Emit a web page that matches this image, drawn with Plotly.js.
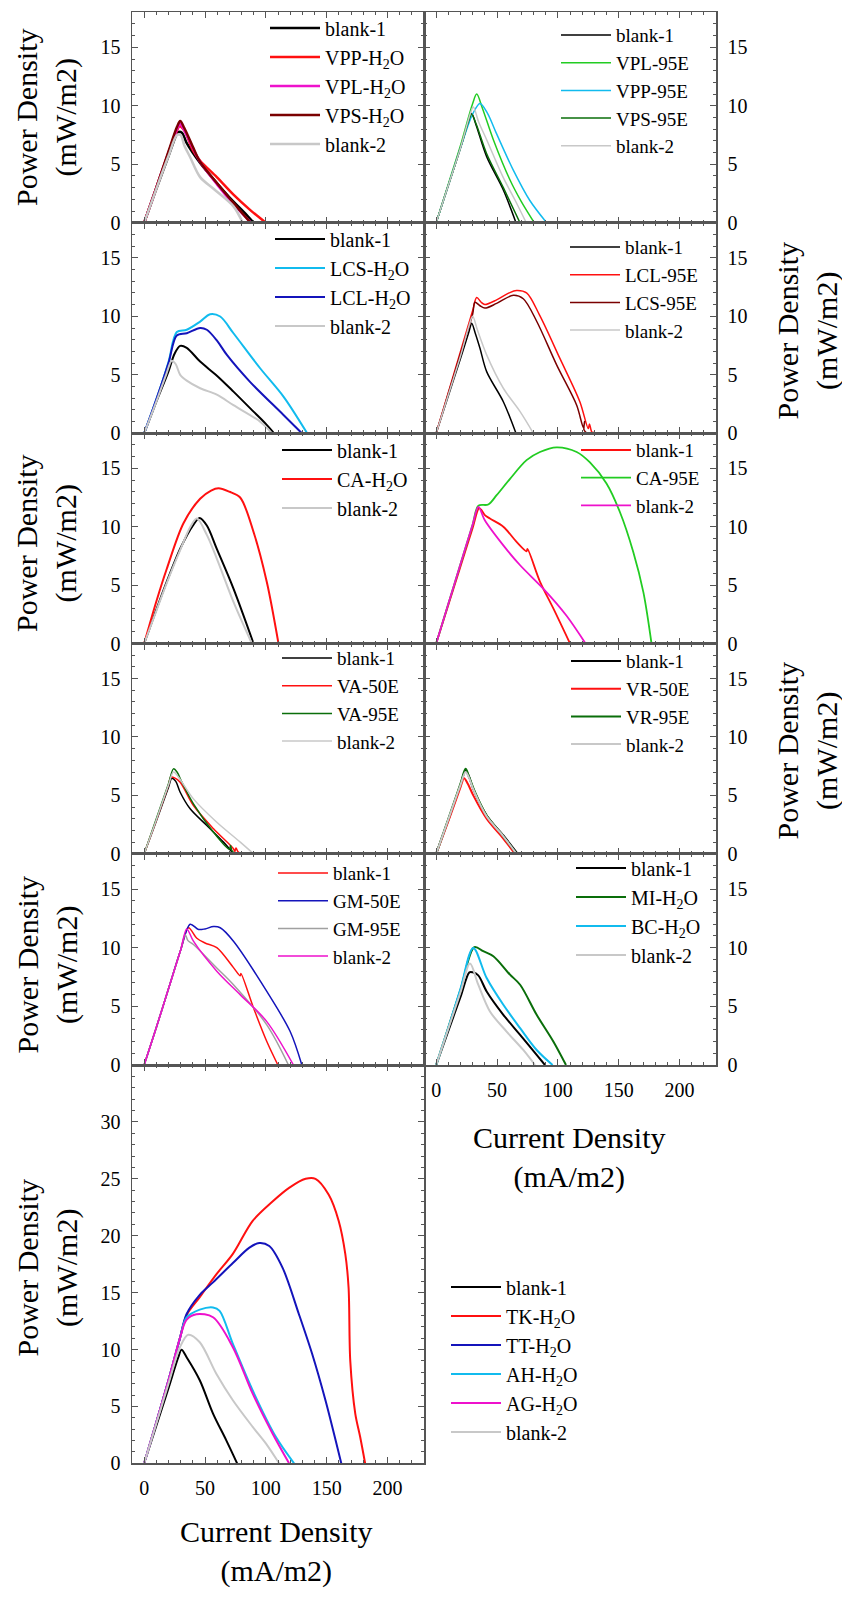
<!DOCTYPE html>
<html><head><meta charset="utf-8">
<script src="https://cdn.plot.ly/plotly-3.0.1.min.js"></script>
<style>html,body{margin:0;padding:0;background:#fff}#chart{width:842px;height:1611px}</style>
</head><body><div id="chart"></div>
<script>
// ---------------- DATA (current density mA/m2 -> power density mW/m2) ----------------
// Panel 1
const p1_blank1_x = [0, 10, 20, 26, 28, 31, 35, 46, 59.7, 73.4, 82, 89.9];
const p1_blank1_y = [0, 2.9, 5.7, 7.4, 7.75, 7.7, 6.8, 5.1, 3.4, 1.8, 0.9, 0];
const p1_vpp_x = [0, 10, 20, 27, 29, 33, 40, 46, 59.7, 73.4, 87, 100];
const p1_vpp_y = [0, 3.0, 6.0, 7.9, 8.25, 7.9, 6.2, 5.3, 3.9, 2.4, 1.1, 0];
const p1_vpl_x = [0, 10, 20, 27, 29.5, 33, 40, 46, 59.7, 73.4, 87.7];
const p1_vpl_y = [0, 3.0, 6.0, 8.0, 8.45, 7.9, 6.4, 5.2, 3.3, 1.6, 0];
const p1_vps_x = [0, 10, 20, 27, 29.6, 33, 40, 46, 59.7, 73.4, 87.5];
const p1_vps_y = [0, 3.0, 6.1, 8.2, 8.7, 8.1, 6.5, 5.2, 3.4, 1.7, 0];
const p1_blank2_x = [0, 10, 20, 27, 30, 33, 37.8, 46, 57, 73.4, 81];
const p1_blank2_y = [0, 2.9, 5.7, 7.5, 7.5, 6.6, 5.6, 3.9, 2.9, 1.4, 0];
// Panel 2
const p2_blank1_x = [0, 10, 20, 27, 29.2, 33, 41.5, 55.2, 65.6];
const p2_blank1_y = [0, 3.2, 6.4, 8.8, 9.35, 8.3, 5.65, 2.8, 0];
const p2_vpl_x = [0, 10, 20, 30, 33.3, 38, 47, 60.7, 70, 80.6];
const p2_vpl_y = [0, 3.3, 6.6, 10.2, 11.0, 9.8, 7.1, 3.65, 1.8, 0];
const p2_vpp_x = [0, 10, 20, 30, 36, 42, 49.7, 63.4, 77, 90.8];
const p2_vpp_y = [0, 3.2, 6.4, 9.3, 10.2, 9.4, 7.6, 4.5, 1.9, 0];
const p2_vps_x = [0, 10, 20, 27, 29, 33, 41.5, 55.2, 68.9];
const p2_vps_y = [0, 3.2, 6.4, 8.8, 9.3, 8.4, 5.9, 3.0, 0];
const p2_blank2_x = [0, 10, 20, 28, 30.5, 35, 41.5, 55, 65, 74];
const p2_blank2_y = [0, 3.2, 6.4, 9.3, 9.9, 8.6, 7.1, 3.9, 1.9, 0];
// Panel 3
const p3_blank1_x = [0, 10, 20, 25, 29.6, 35, 46, 60, 73.4, 89.9, 100, 106.8];
const p3_blank1_y = [0, 2.7, 5.3, 6.8, 7.47, 7.3, 6.13, 4.9, 3.56, 1.85, 0.8, 0];
const p3_lcs_x = [0, 10, 20, 26.8, 35, 46, 54.2, 62.5, 73.4, 95.3, 114.5, 134];
const p3_lcs_y = [0, 2.9, 6.1, 8.65, 8.85, 9.55, 10.18, 9.98, 8.55, 5.56, 3.14, 0];
const p3_lcl_x = [0, 10, 20, 26.8, 35, 46, 51.5, 60, 68, 87, 114.5, 129.6];
const p3_lcl_y = [0, 2.9, 6.0, 8.35, 8.55, 9.0, 8.85, 7.9, 6.7, 4.4, 1.57, 0];
const p3_blank2_x = [0, 10, 18, 22.7, 26, 29.6, 35, 46, 59.7, 73.4, 95.3, 105];
const p3_blank2_y = [0, 2.7, 5.0, 6.2, 5.9, 5.0, 4.5, 3.85, 3.3, 2.4, 1.0, 0];
// Panel 4
const p4_blank1_x = [0, 10, 20, 27, 29.2, 32, 36, 41.5, 55.2, 65.6];
const p4_blank1_y = [0, 3.2, 6.4, 8.7, 9.4, 8.6, 7.27, 5.27, 2.7, 0];
const p4_lcl_x = [0, 10, 20, 30, 33.3, 37, 40, 49.7, 60, 66, 74.3, 85, 101.7, 118.1, 125, 126, 128, 130];
const p4_lcl_y = [0, 3.5, 7.0, 10.5, 11.6, 11.2, 11.0, 11.4, 12.0, 12.2, 12.0, 10.1, 6.4, 2.7, 0.4, 0.8, 0.1, 0.1];
const p4_lcs_x = [0, 10, 20, 30, 31.9, 36, 40, 49.7, 63.4, 71.6, 82.5, 99, 115.5, 121, 122, 121.5, 124];
const p4_lcs_y = [0, 3.4, 6.8, 10.2, 11.2, 10.9, 10.7, 11.1, 11.8, 11.5, 9.6, 5.85, 2.4, 0.5, 1.0, 0.3, 0];
const p4_blank2_x = [0, 10, 20, 27, 30, 34, 41.5, 55.2, 69, 79.9];
const p4_blank2_y = [0, 3.3, 6.6, 9.2, 10.0, 8.8, 6.7, 3.85, 1.85, 0];
// Panel 5
const p5_blank1_x = [0, 10, 18.6, 30, 40, 45.5, 51.5, 59.7, 73.4, 89.9];
const p5_blank1_y = [0, 2.9, 5.3, 8.2, 10.1, 10.75, 10.1, 8.1, 4.7, 0];
const p5_ca_x = [0, 10, 18.6, 32.3, 46, 55, 61.1, 70, 78.9, 89.9, 100.8, 110.4];
const p5_ca_y = [0, 3.6, 6.4, 10.3, 12.4, 13.1, 13.3, 13.0, 12.5, 9.55, 5.27, 0];
const p5_blank2_x = [0, 10, 18.6, 30, 38, 43.3, 51.5, 59.7, 73.4, 88.5];
const p5_blank2_y = [0, 2.8, 5.2, 8.1, 10.0, 10.7, 9.3, 7.27, 3.56, 0];
// Panel 6
const p6_blank1_x = [0, 10, 20, 30, 35.5, 40, 44.2, 55.2, 66.1, 74.3, 75, 85.3, 96.3, 110];
const p6_blank1_y = [0, 3.3, 6.6, 9.9, 11.6, 11.0, 10.7, 10.0, 8.7, 7.9, 8.1, 5.3, 3.0, 0];
const p6_ca_x = [0, 10, 20, 30, 34.7, 42.8, 49.7, 60.7, 74.3, 85.3, 99, 115.5, 126.4, 140, 151, 162, 170.3, 177];
const p6_ca_y = [0, 3.4, 6.8, 10.2, 11.8, 11.9, 12.7, 14.1, 15.7, 16.4, 16.8, 16.4, 15.5, 13.7, 11.26, 7.84, 4.4, 0];
const p6_blank2_x = [0, 10, 20, 30, 34.7, 40, 55.2, 69, 88, 107, 122.8];
const p6_blank2_y = [0, 3.4, 6.8, 10.2, 11.7, 10.55, 8.4, 6.7, 4.7, 2.4, 0];
// Panel 7
const p7_blank1_x = [0, 10, 20, 22.7, 26, 29.6, 37.8, 51.5, 65.2, 73.4];
const p7_blank1_y = [0, 2.8, 5.7, 6.47, 6.2, 5.27, 3.85, 2.42, 1.0, 0];
const p7_va50_x = [0, 10, 20, 21.9, 25, 29.6, 40.5, 57, 73.4, 74.5, 75.5, 77, 79.5];
const p7_va50_y = [0, 2.9, 5.9, 6.56, 6.5, 6.13, 4.13, 2.14, 0.43, 0.2, 0.5, 0.2, 0];
const p7_va95_x = [0, 10, 20, 24.1, 27, 31, 40.5, 57, 70, 71, 72, 74.8];
const p7_va95_y = [0, 3.0, 6.0, 7.27, 7.0, 6.13, 4.28, 1.85, 0.4, 0.7, 0.3, 0];
const p7_blank2_x = [0, 10, 20, 24.1, 28, 40.5, 59.7, 79, 89.9];
const p7_blank2_y = [0, 2.9, 5.9, 7.0, 6.6, 4.7, 2.7, 1.0, 0];
// Panel 8
const p8_blank1_x = [0, 10, 20, 24.2, 27, 30.5, 41.5, 55.2, 67];
const p8_blank1_y = [0, 2.9, 5.9, 7.13, 6.6, 5.56, 3.28, 1.57, 0];
const p8_vr50_x = [0, 10, 20, 22.9, 26, 30.5, 41.5, 55.2, 64.8];
const p8_vr50_y = [0, 2.8, 5.7, 6.47, 6.0, 5.0, 3.0, 1.3, 0];
const p8_vr95_x = [0, 10, 20, 24.2, 27, 32, 41.5, 55.2, 66.1];
const p8_vr95_y = [0, 3.0, 6.0, 7.27, 6.6, 5.27, 3.28, 1.5, 0];
const p8_blank2_x = [0, 10, 20, 24.2, 27, 31, 41.5, 55.2, 66];
const p8_blank2_y = [0, 2.95, 5.9, 7.0, 6.5, 5.4, 3.2, 1.5, 0];
// Panel 9
const p9_blank1_x = [0, 10, 20, 30, 36.4, 43.3, 50, 59.7, 73.4, 78.9, 79.5, 89.9, 100.8, 109.9];
const p9_blank1_y = [0, 3.2, 6.5, 9.8, 11.7, 10.8, 10.4, 10.0, 8.3, 7.6, 7.8, 4.85, 2.0, 0];
const p9_gm50_x = [0, 10, 20, 30, 37.8, 44.7, 50, 57, 62.5, 73.4, 100.8, 120, 129.6];
const p9_gm50_y = [0, 3.2, 6.5, 9.8, 12.0, 11.55, 11.6, 11.8, 11.7, 10.55, 6.27, 2.85, 0];
const p9_gm95_x = [0, 10, 20, 30, 33.7, 36, 40.5, 59.7, 73.4, 100.8, 118.6];
const p9_gm95_y = [0, 3.2, 6.5, 9.8, 11.1, 10.6, 10.27, 8.27, 6.84, 3.42, 0];
const p9_blank2_x = [0, 10, 20, 30, 35, 40.5, 59.7, 78.9, 100.8, 122.7];
const p9_blank2_y = [0, 3.2, 6.5, 9.8, 11.6, 10.55, 8.0, 6.0, 3.7, 0];
// Panel 10
const p10_blank1_x = [0, 10, 20, 27.3, 30, 34.6, 41.5, 55.2, 69, 82.6, 89.4];
const p10_blank1_y = [0, 2.9, 5.8, 7.9, 7.9, 7.64, 6.27, 4.28, 2.57, 0.86, 0];
const p10_mi_x = [0, 10, 20, 31.4, 38.7, 47, 60.7, 69, 82.6, 96.3, 106.7];
const p10_mi_y = [0, 3.2, 6.4, 10.04, 9.7, 9.27, 7.7, 6.84, 4.28, 2.0, 0];
const p10_bc_x = [0, 10, 20, 30.5, 41.5, 55.2, 69, 82.6, 95.7];
const p10_bc_y = [0, 3.2, 6.5, 9.98, 7.41, 5.13, 3.14, 1.28, 0];
const p10_blank2_x = [0, 10, 20, 27.8, 34.6, 44.2, 57.9, 71.6, 81.2];
const p10_blank2_y = [0, 3.1, 6.2, 8.64, 6.84, 4.56, 2.85, 1.28, 0];
// Panel 11
const p11_blank1_x = [0, 10, 20, 28, 30.7, 35, 45.7, 56.6, 67.4, 76.4];
const p11_blank1_y = [0, 3.3, 6.6, 9.3, 9.97, 9.3, 7.3, 4.37, 2.04, 0];
const p11_tk_x = [0, 10, 20, 29.4, 34.8, 45.7, 59.3, 72.9, 89.2, 105.5, 119.1, 132.7, 140.8, 151.7, 159.9, 165.3, 168, 169.4, 173.5, 177.5, 181.6];
const p11_tk_y = [0, 3.6, 7.3, 11.0, 13.0, 14.6, 16.6, 18.4, 21.3, 23.0, 24.2, 25.0, 25.0, 23.6, 21.3, 18.4, 15.45, 9.0, 4.37, 2.33, 0];
const p11_tt_x = [0, 10, 20, 29.4, 34.8, 45.7, 56.6, 72.9, 86.5, 94.6, 102.8, 113.7, 127.2, 138.1, 149, 162];
const p11_tt_y = [0, 3.6, 7.3, 11.0, 13.1, 14.8, 15.9, 17.6, 18.95, 19.36, 19.1, 17.2, 13.1, 9.6, 5.54, 0];
const p11_ah_x = [0, 10, 20, 29.4, 34.8, 45.7, 56.6, 62, 72.9, 89.2, 108.2, 123.2];
const p11_ah_y = [0, 3.6, 7.3, 11.0, 12.8, 13.5, 13.7, 13.4, 10.5, 6.4, 2.33, 0];
const p11_ag_x = [0, 10, 20, 29.4, 34.8, 43, 56.6, 72.9, 89.2, 105.5, 119.1];
const p11_ag_y = [0, 3.6, 7.3, 11.0, 12.6, 13.1, 12.83, 10.2, 6.12, 2.62, 0];
const p11_blank2_x = [0, 10, 20, 29.4, 36.2, 45.7, 59.3, 72.9, 89.2, 100, 110.9];
const p11_blank2_y = [0, 3.5, 7.0, 10.2, 11.3, 10.64, 7.87, 5.54, 3.2, 1.75, 0];

// Tick labels
const xTickVals = [0, 50, 100, 150, 200];
const yTickVals = [0, 5, 10, 15];
const yTickValsBig = [0, 5, 10, 15, 20, 25, 30];
const yTitleText = 'Power Density<br>(mW/m2)';
const xTitleText = 'Current Density<br>(mA/m2)';

// ---------------- STYLE / LAYOUT ----------------
const W = 842, H = 1611;
const FONT = '"Liberation Serif", "Times New Roman", serif';
const COL = {
  black: '#000000', red: '#ff1010', mag: '#ee11cc', dred: '#7a0000', gray: '#c8c8c8',
  green: '#22cc22', cyan: '#11bbee', dgreen: '#0a6e0a', blue: '#1414bb', mgray: '#a0a0a0'
};
const fx = v => v / W;
const fy = v => 1 - v / H;
const cols = [[132, 424], [424, 716]];
const rows = [[12.3, 222.7], [222.7, 433.3], [433.3, 643.5], [643.5, 853.8], [853.8, 1065], [1065, 1463.3]];

const panels = [
  {c: 0, r: 0, yr: 18, lx: 325, ly: 28, fs: 20, lw: 2.5, showX: false, s: [
    ['blank-1', p1_blank1_x, p1_blank1_y, COL.black], ['VPP-H<sub>2</sub>O', p1_vpp_x, p1_vpp_y, COL.red],
    ['VPL-H<sub>2</sub>O', p1_vpl_x, p1_vpl_y, COL.mag], ['VPS-H<sub>2</sub>O', p1_vps_x, p1_vps_y, COL.dred],
    ['blank-2', p1_blank2_x, p1_blank2_y, COL.gray]]},
  {c: 1, r: 0, yr: 18, lx: 616, ly: 35, fs: 19, lw: 1.5, showX: false, s: [
    ['blank-1', p2_blank1_x, p2_blank1_y, COL.black], ['VPL-95E', p2_vpl_x, p2_vpl_y, COL.green],
    ['VPP-95E', p2_vpp_x, p2_vpp_y, COL.cyan], ['VPS-95E', p2_vps_x, p2_vps_y, COL.dgreen],
    ['blank-2', p2_blank2_x, p2_blank2_y, COL.gray]]},
  {c: 0, r: 1, yr: 18, lx: 330, ly: 239, fs: 20, lw: 2, showX: false, s: [
    ['blank-1', p3_blank1_x, p3_blank1_y, COL.black], ['LCS-H<sub>2</sub>O', p3_lcs_x, p3_lcs_y, COL.cyan],
    ['LCL-H<sub>2</sub>O', p3_lcl_x, p3_lcl_y, COL.blue], ['blank-2', p3_blank2_x, p3_blank2_y, COL.gray]]},
  {c: 1, r: 1, yr: 18, lx: 625, ly: 247, fs: 19, lw: 1.5, showX: false, s: [
    ['blank-1', p4_blank1_x, p4_blank1_y, COL.black], ['LCL-95E', p4_lcl_x, p4_lcl_y, COL.red],
    ['LCS-95E', p4_lcs_x, p4_lcs_y, COL.dred], ['blank-2', p4_blank2_x, p4_blank2_y, COL.gray]]},
  {c: 0, r: 2, yr: 18, lx: 337, ly: 450, fs: 20, lw: 2, showX: false, s: [
    ['blank-1', p5_blank1_x, p5_blank1_y, COL.black], ['CA-H<sub>2</sub>O', p5_ca_x, p5_ca_y, COL.red],
    ['blank-2', p5_blank2_x, p5_blank2_y, COL.gray]]},
  {c: 1, r: 2, yr: 18, lx: 636, ly: 450, fs: 19, lw: 1.8, showX: false, s: [
    ['blank-1', p6_blank1_x, p6_blank1_y, COL.red], ['CA-95E', p6_ca_x, p6_ca_y, COL.green],
    ['blank-2', p6_blank2_x, p6_blank2_y, COL.mag]]},
  {c: 0, r: 3, yr: 18, lx: 337, ly: 658, fs: 19, lw: 1.5, showX: false, s: [
    ['blank-1', p7_blank1_x, p7_blank1_y, COL.black], ['VA-50E', p7_va50_x, p7_va50_y, COL.red],
    ['VA-95E', p7_va95_x, p7_va95_y, COL.dgreen], ['blank-2', p7_blank2_x, p7_blank2_y, COL.gray]]},
  {c: 1, r: 3, yr: 18, lx: 626, ly: 661, fs: 19, lw: 2, showX: false, s: [
    ['blank-1', p8_blank1_x, p8_blank1_y, COL.black], ['VR-50E', p8_vr50_x, p8_vr50_y, COL.red],
    ['VR-95E', p8_vr95_x, p8_vr95_y, COL.dgreen], ['blank-2', p8_blank2_x, p8_blank2_y, COL.gray]]},
  {c: 0, r: 4, yr: 18, lx: 333, ly: 873, fs: 19, lw: 1.5, showX: false, s: [
    ['blank-1', p9_blank1_x, p9_blank1_y, COL.red], ['GM-50E', p9_gm50_x, p9_gm50_y, COL.blue],
    ['GM-95E', p9_gm95_x, p9_gm95_y, COL.mgray], ['blank-2', p9_blank2_x, p9_blank2_y, COL.mag]]},
  {c: 1, r: 4, yr: 18, lx: 631, ly: 868, fs: 20, lw: 2, showX: true, s: [
    ['blank-1', p10_blank1_x, p10_blank1_y, COL.black], ['MI-H<sub>2</sub>O', p10_mi_x, p10_mi_y, COL.dgreen],
    ['BC-H<sub>2</sub>O', p10_bc_x, p10_bc_y, COL.cyan], ['blank-2', p10_blank2_x, p10_blank2_y, COL.gray]]},
  {c: 0, r: 5, yr: 35, lx: 506, ly: 1287, fs: 20, lw: 2, showX: true, s: [
    ['blank-1', p11_blank1_x, p11_blank1_y, COL.black], ['TK-H<sub>2</sub>O', p11_tk_x, p11_tk_y, COL.red],
    ['TT-H<sub>2</sub>O', p11_tt_x, p11_tt_y, COL.blue], ['AH-H<sub>2</sub>O', p11_ah_x, p11_ah_y, COL.cyan],
    ['AG-H<sub>2</sub>O', p11_ag_x, p11_ag_y, COL.mag], ['blank-2', p11_blank2_x, p11_blank2_y, COL.gray]]}
];

const traces = [];
const layout = {
  width: W, height: H, margin: {l: 0, r: 0, t: 0, b: 0},
  paper_bgcolor: '#ffffff', plot_bgcolor: '#ffffff',
  font: {family: FONT, size: 20, color: '#000'},
  showlegend: true, annotations: []
};
const ITEMW = 50;

panels.forEach((p, k) => {
  const i = k + 1, sfx = i === 1 ? '' : String(i);
  const legName = 'legend' + sfx;
  p.s.forEach(([name, xs, ys, color]) => {
    traces.push({type: 'scatter', mode: 'lines', name: name, x: xs, y: ys,
      xaxis: 'x' + sfx, yaxis: 'y' + sfx, legend: legName,
      line: {color: color, width: p.lw, shape: 'spline', smoothing: 0.9}});
  });
  const [x0, x1] = cols[p.c], [t, b] = rows[p.r];
  const axCommon = {showline: true, linecolor: '#555', linewidth: 1.5, mirror: 'allticks',
    ticks: 'inside', ticklen: 6, tickwidth: 1, tickcolor: '#555', showgrid: false, zeroline: false,
    tickfont: {family: FONT, size: 20, color: '#000'}};
  layout['xaxis' + sfx] = Object.assign({}, axCommon, {
    domain: [fx(x0), fx(x1)], anchor: 'y' + sfx, range: [-10, 230],
    tickvals: xTickVals, showticklabels: p.showX, ticklabelstandoff: 6,
    minor: {tickvals: [-10,10,20,30,40,60,70,80,90,110,120,130,140,160,170,180,190,210,220,230], ticks: 'inside', ticklen: 3, tickcolor: '#555'}
  });
  layout['yaxis' + sfx] = Object.assign({}, axCommon, {
    domain: [fy(b), fy(t)], anchor: 'x' + sfx, range: [0, p.yr],
    tickvals: p.yr > 20 ? yTickValsBig : yTickVals, side: p.c === 0 ? 'left' : 'right',
    ticklabelstandoff: 6,
    minor: {dtick: 1, ticks: 'inside', ticklen: 3, tickcolor: '#555'}
  });
  const itemH = p.fs * 1.3 + 3;
  layout[legName] = {x: fx(p.lx - (ITEMW + 10)), y: fy(p.ly - (5 + itemH / 2)),
    xanchor: 'left', yanchor: 'top', bgcolor: 'rgba(0,0,0,0)', borderwidth: 0,
    itemwidth: ITEMW, tracegroupgap: 0, traceorder: 'normal',
    font: {family: FONT, size: p.fs, color: '#000'}};
});

function yTitle(xc, yc) {
  return {text: yTitleText, xref: 'paper', yref: 'paper', x: fx(xc), y: fy(yc), textangle: -90,
    showarrow: false, xanchor: 'center', yanchor: 'middle', font: {family: FONT, size: 30, color: '#000'}};
}
function xTitle(xc, yc) {
  return {text: xTitleText, xref: 'paper', yref: 'paper', x: fx(xc), y: fy(yc),
    showarrow: false, xanchor: 'center', yanchor: 'middle', font: {family: FONT, size: 30, color: '#000'}};
}
layout.annotations.push(yTitle(46.5, 117.5), yTitle(46.5, 543.5), yTitle(46.5, 965), yTitle(46.5, 1268),
  yTitle(807, 331.5), yTitle(807, 751.5), xTitle(568.5, 1157), xTitle(276, 1551.5));

Plotly.newPlot('chart', traces, layout, {displayModeBar: false, staticPlot: true});
</script></body></html>
